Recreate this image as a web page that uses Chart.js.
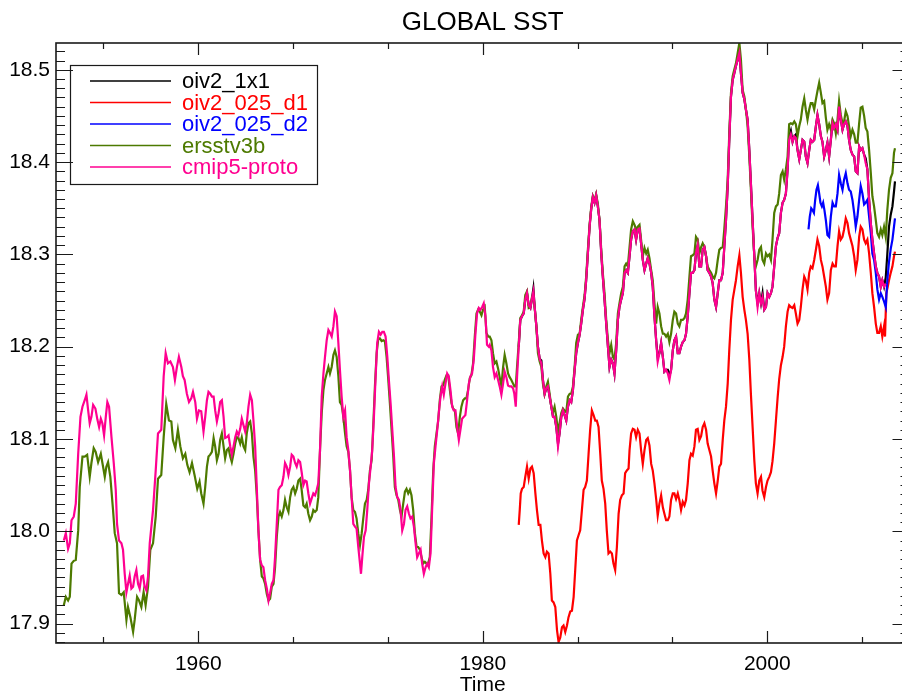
<!DOCTYPE html>
<html>
<head>
<meta charset="utf-8">
<title>GLOBAL SST</title>
<script src="https://cdn.jsdelivr.net/npm/chart.js@4.4.1/dist/chart.umd.min.js"></script>
<style>
    html, body { margin: 0; padding: 0; background: #fff; overflow: hidden; }
    #sst_chart { display: block; }
</style>
</head>
<body>
<canvas id="sst_chart" width="912" height="700"></canvas>
<script>
// tick labels
const xTickLabels = [1960, 1980, 2000];
const yTickLabels = [17.9, 18.0, 18.1, 18.2, 18.3, 18.4, 18.5];

// ersstv3b (green)
const ersstYears = [
    1950.55,1950.69,1950.85,1950.97,1951.09,1951.25,1951.39,1951.56,1951.67,1951.86,
    1952.02,1952.19,1952.37,1952.49,1952.65,1952.79,1952.96,1953.15,1953.31,1953.43,
    1953.54,1953.66,1953.82,1954.01,1954.13,1954.29,1954.43,1954.60,1954.76,1954.95,
    1955.06,1955.23,1955.42,1955.53,1955.70,1955.84,1956.00,1956.16,1956.30,1956.47,
    1956.63,1956.82,1957.01,1957.17,1957.40,1957.57,1957.75,1957.94,1958.11,1958.22,
    1958.39,1958.57,1958.74,1958.92,1959.09,1959.23,1959.39,1959.56,1959.74,1959.93,
    1960.09,1960.21,
    1960.37,1960.49,1960.61,1960.72,1960.84,1960.96,1961.08,1961.19,1961.31,1961.43,
    1961.54,1961.66,1961.78,1961.89,1962.01,1962.13,1962.25,1962.36,1962.48,1962.60,
    1962.71,1962.83,1962.95,1963.06,1963.18,1963.30,1963.41,1963.53,1963.65,1963.77,
    1963.88,1964.00,1964.12,1964.23,1964.35,1964.47,1964.58,1964.70,1964.82,1964.94,
    1965.05,1965.17,1965.29,1965.40,1965.52,1965.64,1965.75,1965.87,1965.99,1966.10,
    1966.22,1966.34,1966.46,1966.57,1966.69,1966.81,1966.92,1967.04,1967.16,1967.27,
    1967.39,1967.51,1967.62,1967.74,1967.86,1967.98,1968.09,1968.21,1968.33,1968.44,
    1968.56,1968.68,1968.80,1968.91,1969.03,1969.15,1969.26,1969.38,1969.50,1969.61,
    1969.73,1969.85,1969.96,1970.08,1970.20,
    1970.32,1970.43,1970.55,1970.67,1970.78,1970.90,1971.02,1971.13,1971.25,1971.37,
    1971.49,1971.60,1971.72,1971.84,1971.95,1972.07,1972.19,1972.30,1972.42,1972.54,
    1972.66,1972.77,1972.89,1973.01,1973.12,1973.24,1973.36,1973.47,1973.59,1973.71,
    1973.82,1973.94,1974.06,1974.18,1974.29,1974.41,1974.53,1974.64,1974.76,1974.88,
    1974.99,1975.11,1975.23,1975.35,1975.46,1975.58,1975.70,1975.81,1975.93,1976.05,
    1976.16,1976.28,1976.40,1976.52,1976.63,1976.75,1976.87,1976.98,1977.10,1977.22,
    1977.33,1977.45,1977.57,1977.69,1977.80,1977.92,1978.04,1978.15,1978.27,1978.39,
    1978.50,1978.62,1978.74,1978.85,1978.97,1979.09,1979.20,1979.32,1979.44,1979.56,
    1979.67,1979.79,1979.91,1980.02,1980.14,1980.26,1980.38,
    1980.49,1980.61,1980.72,1980.84,1980.96,1981.08,1981.19,1981.31,1981.43,1981.54,
    1981.66,1981.78,1981.89,1982.01,1982.13,1982.22,1982.32,1982.41,1982.53,1982.64,
    1982.76,1982.88,1982.99,1983.11,1983.23,1983.35,1983.46,1983.56,1983.65,1983.77,
    1983.88,1984.00,1984.12,1984.23,1984.35,1984.47,1984.58,1984.70,1984.82,1984.94,
    1985.05,1985.17,1985.29,1985.40,1985.52,1985.64,1985.75,1985.87,1985.99,1986.11,
    1986.22,1986.34,1986.46,1986.57,1986.69,1986.81,1986.92,1987.04,1987.16,1987.27,
    1987.39,1987.51,
    1987.63,1987.74,1987.86,1987.97,1988.09,
    1988.21,1988.33,1988.44,1988.56,1988.68,1988.80,1988.91,1989.03,1989.15,1989.26,
    1989.38,1989.50,
    1989.61,1989.73,1989.85,1989.97,1990.08,1990.20,1990.32,1990.43,1990.55,1990.67,
    1990.78,1990.90,1991.02,1991.13,1991.25,1991.37,1991.49,1991.60,1991.72,1991.84,
    1991.95,1992.07,1992.19,1992.30,1992.42,1992.54,1992.66,1992.77,1992.89,1993.01,
    1993.12,1993.24,1993.36,1993.47,1993.59,1993.71,1993.82,1993.94,1994.06,1994.18,
    1994.29,1994.41,1994.53,1994.64,1994.76,1994.88,1994.99,1995.11,1995.23,1995.35,
    1995.46,1995.58,1995.70,1995.81,1995.93,1996.05,1996.16,1996.28,1996.40,1996.52,
    1996.63,1996.75,1996.87,1996.98,1997.10,1997.22,1997.33,1997.45,1997.57,1997.68,
    1997.80,1997.92,1998.04,1998.15,1998.27,1998.39,1998.50,1998.62,1998.74,1998.85,
    1998.97,1999.09,1999.20,1999.32,1999.44,1999.56,1999.67,1999.79,1999.91,2000.02,
    2000.14,2000.26,2000.37,2000.49,2000.61,2000.73,2000.84,2000.96,2001.08,2001.19,
    2001.31,2001.43,2001.54,2001.66,2001.78,2001.90,2002.01,2002.13,2002.25,2002.36,
    2002.48,2002.60,2002.71,2002.83,2002.95,2003.06,2003.18,2003.30,2003.42,2003.53,
    2003.65,2003.77,2003.88,2004.00,2004.12,2004.23,2004.35,2004.47,2004.59,2004.70,
    2004.82,2004.94,2005.05,2005.17,2005.29,2005.40,2005.52,2005.64,2005.75,2005.87,
    2005.99,2006.11,2006.22,2006.34,2006.46,2006.57,2006.69,2006.81,2006.92,2007.04,
    2007.16,2007.28,2007.39,2007.51,2007.63,2007.74,2007.86,2007.98,2008.09,2008.21,
    2008.33,2008.44,2008.56,2008.68,2008.80,2008.91,2008.98
];
const ersstSst = [
    17.920,17.929,17.925,17.929,17.965,17.968,17.969,18.001,18.048,18.081,
    18.081,18.083,18.059,18.074,18.090,18.086,18.075,18.084,18.070,18.059,
    18.070,18.075,18.059,18.023,17.998,17.987,17.933,17.931,17.934,17.904,
    17.918,17.907,17.891,17.904,17.929,17.925,17.918,17.934,17.920,17.940,
    17.980,17.987,18.016,18.057,18.061,18.102,18.138,18.120,18.119,18.099,
    18.090,18.110,18.092,18.079,18.084,18.072,18.064,18.074,18.061,18.046,
    18.054,18.041,
    18.030,18.048,18.070,18.081,18.083,18.086,18.101,18.092,18.077,18.084,
    18.099,18.106,18.092,18.079,18.088,18.090,18.081,18.075,18.084,18.095,
    18.102,18.101,18.095,18.102,18.092,18.088,18.106,18.117,18.119,18.106,
    18.081,18.066,18.037,18.001,17.969,17.951,17.949,17.943,17.932,17.925,
    17.927,17.940,17.943,17.961,17.994,18.016,18.021,18.016,18.023,18.034,
    18.026,18.021,18.037,18.045,18.048,18.041,18.046,18.055,18.057,18.045,
    18.028,18.026,18.030,18.019,18.012,18.016,18.023,18.021,18.023,18.037,
    18.088,18.128,18.153,18.164,18.171,18.178,18.171,18.178,18.191,18.196,
    18.189,18.168,18.140,18.137,18.124,
    18.106,18.092,18.086,18.066,18.037,18.023,18.021,18.014,17.998,17.985,
    17.998,18.014,18.030,18.034,18.045,18.066,18.077,18.113,18.157,18.193,
    18.209,18.209,18.206,18.207,18.206,18.189,18.164,18.139,18.110,18.081,
    18.048,18.039,18.034,18.023,18.016,18.030,18.043,18.046,18.041,18.045,
    18.039,18.023,17.998,17.983,17.983,17.980,17.972,17.965,17.967,17.965,
    17.965,17.972,18.016,18.066,18.092,18.106,18.120,18.142,18.157,18.158,
    18.164,18.169,18.169,18.153,18.139,18.133,18.131,18.113,18.106,18.124,
    18.135,18.142,18.144,18.144,18.153,18.166,18.169,18.182,18.211,18.236,
    18.240,18.238,18.234,18.240,18.243,18.215,18.211,
    18.211,18.207,18.193,18.182,18.184,18.176,18.167,18.157,18.178,18.191,
    18.182,18.171,18.167,18.164,18.160,18.157,18.157,18.178,18.204,18.231,
    18.234,18.238,18.256,18.260,18.242,18.243,18.254,18.256,18.242,18.222,
    18.193,18.184,18.178,18.160,18.149,18.157,18.162,18.149,18.135,18.129,
    18.135,18.124,18.108,18.117,18.128,18.133,18.131,18.129,18.146,18.149,
    18.149,18.157,18.178,18.204,18.213,18.214,18.229,18.243,18.256,18.276,
    18.305,18.332,
    18.352,18.363,18.358,18.365,18.355,
    18.337,18.305,18.280,18.258,18.229,18.207,18.193,18.202,18.189,18.186,
    18.204,18.236,
    18.247,18.258,18.265,18.287,18.290,18.287,18.308,18.327,18.336,18.332,
    18.327,18.330,18.332,18.316,18.298,18.307,18.301,18.305,18.296,18.283,
    18.272,18.247,18.225,18.243,18.236,18.222,18.214,18.214,18.211,18.214,
    18.205,18.214,18.229,18.238,18.236,18.225,18.222,18.229,18.229,18.231,
    18.236,18.251,18.276,18.298,18.299,18.301,18.319,18.316,18.301,18.308,
    18.312,18.308,18.298,18.287,18.283,18.280,18.276,18.274,18.280,18.294,
    18.305,18.307,18.308,18.327,18.352,18.381,18.431,18.475,18.493,18.500,
    18.507,18.518,18.529,18.511,18.478,18.471,18.457,18.439,18.406,18.370,
    18.330,18.298,18.287,18.294,18.305,18.308,18.294,18.290,18.301,18.298,
    18.300,18.294,18.316,18.345,18.352,18.354,18.366,18.386,18.390,18.381,
    18.392,18.406,18.441,18.442,18.441,18.444,18.441,18.428,18.439,18.446,
    18.460,18.469,18.457,18.446,18.457,18.464,18.464,18.457,18.468,18.477,
    18.486,18.475,18.464,18.466,18.448,18.435,18.441,18.435,18.446,18.442,
    18.431,18.446,18.466,18.451,18.442,18.444,18.455,18.450,18.439,18.428,
    18.435,18.430,18.421,18.421,18.442,18.459,18.460,18.450,18.437,18.433,
    18.413,18.388,18.363,18.352,18.337,18.323,18.319,18.327,18.321,18.330,
    18.319,18.348,18.370,18.383,18.388,18.410,18.415
];

// cmip5-proto (pink)
const cmipYears = [
    1950.55,1950.69,1950.85,1950.97,1951.09,1951.25,1951.39,1951.56,1951.72,1951.86,
    1952.02,1952.14,1952.26,1952.37,1952.49,1952.61,1952.77,1952.91,1953.03,1953.15,
    1953.26,1953.38,1953.50,1953.61,1953.73,1953.90,1954.06,1954.20,1954.29,1954.43,
    1954.60,1954.71,1954.83,1954.95,1955.06,1955.18,1955.30,1955.42,1955.53,1955.65,
    1955.77,1955.88,1956.00,1956.12,1956.23,1956.35,1956.47,1956.59,1956.82,1957.01,
    1957.17,1957.40,1957.57,1957.71,1957.87,1958.04,1958.22,1958.36,1958.50,1958.64,
    1958.81,1958.92,1959.04,1959.20,1959.35,1959.51,1959.63,1959.79,1959.91,1960.05,
    1960.21,
    1960.37,1960.49,1960.61,1960.72,1960.84,1960.96,1961.08,1961.19,1961.31,1961.43,
    1961.54,1961.66,1961.78,1961.89,1962.01,1962.13,1962.25,1962.36,1962.48,1962.60,
    1962.71,1962.83,1962.95,1963.06,1963.18,1963.30,1963.41,1963.53,1963.65,1963.77,
    1963.88,1964.00,1964.12,1964.23,1964.35,1964.47,1964.58,1964.70,1964.82,1964.94,
    1965.05,1965.17,1965.29,1965.40,1965.52,1965.64,1965.75,1965.87,1965.99,1966.10,
    1966.22,1966.34,1966.46,1966.57,1966.69,1966.81,1966.92,1967.04,1967.16,1967.27,
    1967.39,1967.51,1967.62,1967.74,1967.86,1967.98,1968.09,1968.21,1968.33,1968.44,
    1968.56,1968.68,1968.80,1968.91,1969.03,1969.15,1969.26,1969.38,1969.50,1969.61,
    1969.73,1969.85,1969.96,1970.08,1970.20,
    1970.32,1970.43,1970.55,1970.67,1970.78,1970.90,1971.02,1971.13,1971.25,1971.37,
    1971.44,1971.53,1971.65,1971.77,1971.88,1972.00,1972.12,1972.23,1972.35,1972.47,
    1972.58,1972.70,1972.82,1972.94,1973.05,1973.17,1973.29,1973.40,1973.52,1973.64,
    1973.76,1973.87,1973.99,1974.11,1974.22,1974.34,1974.46,1974.57,1974.69,1974.81,
    1974.92,1975.04,1975.16,1975.28,1975.39,1975.51,1975.63,1975.74,1975.86,1975.98,
    1976.09,1976.21,1976.33,1976.44,1976.56,1976.68,1976.80,1976.91,1977.03,1977.15,
    1977.26,1977.38,1977.50,1977.61,1977.73,1977.85,1977.96,1978.08,1978.20,1978.32,
    1978.43,1978.55,1978.67,1978.78,1978.90,1979.02,1979.14,1979.25,1979.37,1979.49,
    1979.60,1979.72,1979.84,1979.96,1980.07,1980.19,1980.30,1980.42,
    1980.49,1980.61,1980.72,1980.84,1980.96,1981.08,1981.19,1981.31,1981.43,1981.54,
    1981.66,1981.78,1981.89,1982.01,1982.13,1982.22,1982.32,1982.41,1982.53,1982.64,
    1982.76,1982.88,1982.99,1983.11,1983.23,1983.35,1983.46,1983.56,1983.65,1983.77,
    1983.88,1984.00,1984.12,1984.23,1984.35,1984.47,1984.58,1984.70,1984.82,1984.94,
    1985.05,1985.17,1985.29,1985.40,1985.52,1985.64,1985.75,1985.87,1985.99,1986.11,
    1986.22,1986.34,1986.46,1986.57,1986.69,1986.81,1986.92,1987.04,1987.16,1987.27,
    1987.39,1987.51,
    1987.63,1987.74,1987.86,1987.97,1988.09,
    1988.21,1988.33,1988.44,1988.56,1988.68,1988.80,1988.91,1989.03,1989.15,1989.26,
    1989.38,1989.50,
    1989.61,1989.73,1989.85,1989.97,1990.08,1990.20,1990.32,1990.43,1990.55,1990.67,
    1990.78,1990.90,1991.02,1991.13,1991.25,1991.37,1991.49,1991.60,1991.72,1991.84,
    1991.95,1992.07,1992.19,1992.30,1992.42,1992.54,1992.66,1992.77,1992.89,1993.01,
    1993.12,1993.24,1993.36,1993.47,1993.59,1993.71,1993.82,1993.94,1994.06,1994.18,
    1994.29,1994.41,1994.53,1994.64,1994.76,1994.88,1994.99,1995.11,1995.23,1995.35,
    1995.46,1995.58,1995.70,1995.81,1995.93,1996.05,1996.16,1996.28,1996.40,1996.52,
    1996.63,1996.75,1996.87,1996.98,1997.10,1997.22,1997.33,1997.45,1997.57,1997.68,
    1997.80,1997.92,1998.04,1998.15,1998.27,1998.39,1998.50,1998.62,1998.74,1998.85,
    1998.97,1999.09,1999.20,1999.32,1999.44,1999.56,1999.67,1999.79,1999.91,2000.02,
    2000.14,2000.26,2000.37,2000.49,2000.61,2000.73,2000.84,2000.96,2001.08,2001.19,
    2001.31,2001.43,2001.54,2001.66,2001.78,2001.90,2002.01,2002.13,2002.25,2002.36,
    2002.48,2002.60,2002.71,2002.83,2002.95,2003.06,2003.18,2003.30,2003.42,2003.53,
    2003.65,2003.77,2003.88,2004.00,2004.12,2004.23,2004.35,2004.47,2004.59,2004.70,
    2004.82,2004.94,2005.05,2005.17,2005.29,2005.40,2005.52,2005.64,2005.75,2005.87,
    2005.99,2006.11,2006.22,2006.34,2006.46,2006.57,2006.69,2006.81,2006.92,2007.04,
    2007.16,2007.28,2007.39,2007.51,2007.63,2007.74,2007.86,2007.98,2008.09,2008.21,
    2008.33
];
const cmipSst = [
    17.990,17.998,17.981,17.987,18.012,18.016,18.030,18.084,18.124,18.135,
    18.142,18.148,18.131,18.117,18.124,18.137,18.133,18.121,18.113,18.122,
    18.117,18.104,18.124,18.140,18.135,18.102,18.074,18.045,18.008,17.990,
    17.987,17.980,17.954,17.934,17.943,17.952,17.938,17.940,17.951,17.958,
    17.943,17.938,17.951,17.952,17.940,17.936,17.951,17.987,18.023,18.066,
    18.106,18.110,18.168,18.193,18.182,18.184,18.178,18.164,18.178,18.189,
    18.178,18.168,18.164,18.149,18.140,18.144,18.151,18.140,18.122,18.131,
    18.130,
    18.108,18.124,18.142,18.151,18.149,18.146,18.146,18.131,18.119,18.128,
    18.140,18.142,18.124,18.101,18.102,18.104,18.092,18.083,18.092,18.102,
    18.108,18.104,18.111,18.122,18.115,18.108,18.117,18.135,18.148,18.142,
    18.120,18.092,18.045,18.001,17.969,17.963,17.961,17.947,17.938,17.925,
    17.933,17.943,17.947,17.972,18.008,18.045,18.048,18.050,18.059,18.074,
    18.070,18.061,18.070,18.083,18.081,18.074,18.070,18.077,18.075,18.064,
    18.050,18.055,18.054,18.041,18.030,18.036,18.041,18.039,18.045,18.052,
    18.088,18.146,18.171,18.189,18.207,18.218,18.215,18.211,18.222,18.238,
    18.233,18.204,18.175,18.146,18.124,
    18.131,18.102,18.088,18.066,18.037,18.008,18.005,18.003,17.983,17.965,
    17.954,17.972,17.994,18.001,18.023,18.052,18.070,18.088,18.124,18.168,
    18.204,18.216,18.213,18.216,18.216,18.211,18.189,18.164,18.139,18.110,
    18.081,18.048,18.037,18.034,18.023,18.001,18.008,18.023,18.027,18.019,
    18.014,18.016,18.005,17.987,17.972,17.976,17.980,17.965,17.954,17.961,
    17.965,17.961,17.976,18.023,18.073,18.092,18.110,18.128,18.146,18.157,
    18.148,18.160,18.171,18.168,18.153,18.135,18.131,18.131,18.113,18.099,
    18.110,18.122,18.124,18.126,18.142,18.160,18.168,18.171,18.186,18.215,
    18.236,18.242,18.240,18.243,18.247,18.233,18.202,18.200,
    18.202,18.196,18.178,18.167,18.171,18.164,18.157,18.148,18.160,18.173,
    18.167,18.158,18.157,18.157,18.155,18.149,18.135,18.167,18.200,18.229,
    18.233,18.236,18.251,18.258,18.245,18.242,18.252,18.260,18.243,18.222,
    18.200,18.187,18.182,18.164,18.149,18.155,18.157,18.146,18.135,18.124,
    18.124,18.113,18.092,18.106,18.124,18.131,18.126,18.120,18.135,18.142,
    18.140,18.153,18.175,18.193,18.204,18.213,18.225,18.240,18.252,18.272,
    18.301,18.330,
    18.350,18.362,18.356,18.364,18.352,
    18.337,18.301,18.276,18.251,18.225,18.200,18.178,18.186,18.182,18.171,
    18.196,18.229,
    18.243,18.251,18.258,18.280,18.283,18.280,18.298,18.316,18.325,18.327,
    18.316,18.327,18.328,18.312,18.294,18.283,18.290,18.296,18.290,18.280,
    18.265,18.233,18.207,18.184,18.193,18.204,18.189,18.173,18.175,18.171,
    18.164,18.175,18.196,18.207,18.211,18.193,18.193,18.200,18.205,18.207,
    18.214,18.233,18.258,18.280,18.280,18.283,18.301,18.310,18.287,18.287,
    18.305,18.308,18.298,18.283,18.280,18.276,18.269,18.251,18.243,18.258,
    18.272,18.272,18.280,18.308,18.337,18.374,18.424,18.471,18.489,18.496,
    18.504,18.511,18.518,18.496,18.475,18.468,18.457,18.446,18.413,18.377,
    18.337,18.298,18.261,18.243,18.258,18.247,18.254,18.240,18.243,18.258,
    18.254,18.258,18.265,18.287,18.309,18.318,18.323,18.345,18.356,18.359,
    18.366,18.392,18.424,18.430,18.422,18.428,18.426,18.413,18.403,18.413,
    18.424,18.422,18.406,18.399,18.413,18.424,18.422,18.424,18.439,18.451,
    18.441,18.428,18.422,18.406,18.413,18.421,18.406,18.424,18.442,18.437,
    18.441,18.435,18.460,18.446,18.435,18.441,18.444,18.439,18.424,18.413,
    18.408,18.406,18.390,18.388,18.417,18.413,18.415,18.408,18.399,18.392,
    18.359,18.334,18.316,18.301,18.287,18.280,18.276,18.265,18.272,18.265,
    18.268
];

// oiv2_1x1 (black)
const oiYears = [
    1982.53,1982.64,1982.76,1982.88,1982.99,1983.11,1983.23,1983.35,1983.46,1983.56,
    1983.65,1983.77,1983.88,1984.00,1984.12,1984.23,1984.35,1984.47,1984.58,1984.70,
    1984.82,1984.94,1985.05,1985.17,1985.29,1985.40,1985.52,1985.64,1985.75,1985.87,
    1985.99,1986.11,1986.22,1986.34,1986.46,1986.57,1986.69,1986.81,1986.92,1987.04,
    1987.16,1987.27,1987.39,1987.51,
    1987.63,1987.74,1987.86,1987.97,1988.09,
    1988.21,1988.33,1988.44,1988.56,1988.68,1988.80,1988.91,1989.03,1989.15,1989.26,
    1989.38,1989.50,
    1989.61,1989.73,1989.85,1989.97,1990.08,1990.20,1990.32,1990.43,1990.55,1990.67,
    1990.78,1990.90,1991.02,1991.13,1991.25,1991.37,1991.49,1991.60,1991.72,1991.84,
    1991.95,1992.07,1992.19,1992.30,1992.42,1992.54,1992.66,1992.77,1992.89,1993.01,
    1993.12,1993.24,1993.36,1993.47,1993.59,1993.71,1993.82,1993.94,1994.06,1994.18,
    1994.29,1994.41,1994.53,1994.64,1994.76,1994.88,1994.99,1995.11,1995.23,1995.35,
    1995.46,1995.58,1995.70,1995.81,1995.93,1996.05,1996.16,1996.28,1996.40,1996.52,
    1996.63,1996.75,1996.87,1996.98,1997.10,1997.22,1997.33,1997.45,1997.57,1997.68,
    1997.80,1997.92,1998.04,1998.15,1998.27,1998.39,1998.50,1998.62,1998.74,1998.85,
    1998.97,1999.09,1999.20,1999.32,1999.44,1999.56,1999.67,1999.79,1999.91,2000.02,
    2000.14,2000.26,2000.37,2000.49,2000.61,2000.73,2000.84,2000.96,2001.08,2001.19,
    2001.31,2001.43,2001.54,2001.66,2001.78,2001.90,2002.01,2002.13,2002.25,2002.36,
    2002.48,2002.60,2002.71,2002.83,2002.95,2003.06,2003.18,2003.30,2003.42,2003.53,
    2003.65,2003.77,2003.88,2004.00,2004.12,2004.23,2004.35,2004.47,2004.59,2004.70,
    2004.82,2004.94,2005.05,2005.17,2005.29,2005.40,2005.52,2005.64,2005.75,2005.87,
    2005.99,2006.11,2006.22,2006.34,2006.46,2006.57,2006.69,2006.81,2006.92,2007.04,
    2007.16,2007.28,2007.39,2007.51,2007.63,2007.74,2007.86,2007.98,2008.09,2008.21,
    2008.33,2008.44,2008.56,2008.68,2008.80,2008.91,2008.98
];
const oiSst = [
    18.200,18.229,18.233,18.236,18.251,18.258,18.245,18.242,18.252,18.263,
    18.243,18.222,18.200,18.187,18.185,18.164,18.149,18.155,18.157,18.146,
    18.135,18.124,18.124,18.113,18.095,18.106,18.124,18.131,18.126,18.120,
    18.135,18.142,18.140,18.153,18.175,18.193,18.204,18.213,18.225,18.240,
    18.252,18.272,18.301,18.330,
    18.350,18.362,18.356,18.364,18.352,
    18.337,18.301,18.276,18.251,18.225,18.200,18.178,18.186,18.182,18.171,
    18.196,18.229,
    18.243,18.251,18.258,18.280,18.283,18.280,18.298,18.316,18.325,18.327,
    18.316,18.327,18.328,18.312,18.294,18.283,18.290,18.296,18.290,18.280,
    18.265,18.233,18.207,18.188,18.193,18.204,18.189,18.173,18.175,18.175,
    18.168,18.175,18.196,18.207,18.211,18.193,18.193,18.200,18.205,18.207,
    18.214,18.233,18.258,18.280,18.280,18.283,18.301,18.310,18.287,18.287,
    18.305,18.308,18.298,18.283,18.280,18.276,18.269,18.251,18.243,18.258,
    18.272,18.272,18.280,18.308,18.337,18.374,18.424,18.471,18.489,18.496,
    18.504,18.511,18.518,18.496,18.475,18.468,18.457,18.446,18.413,18.377,
    18.337,18.298,18.261,18.247,18.258,18.247,18.258,18.240,18.243,18.258,
    18.254,18.258,18.265,18.287,18.309,18.318,18.323,18.345,18.356,18.359,
    18.366,18.392,18.428,18.434,18.422,18.428,18.430,18.413,18.403,18.413,
    18.424,18.422,18.406,18.399,18.413,18.424,18.422,18.424,18.439,18.451,
    18.441,18.428,18.422,18.406,18.413,18.421,18.406,18.424,18.442,18.437,
    18.441,18.435,18.460,18.446,18.435,18.441,18.444,18.439,18.424,18.413,
    18.408,18.406,18.390,18.388,18.417,18.413,18.415,18.408,18.404,18.392,
    18.359,18.334,18.316,18.301,18.287,18.280,18.276,18.265,18.272,18.265,
    18.275,18.300,18.330,18.343,18.352,18.368,18.379
];

// oiv2_025_d1 (red)
const d1Years = [
    1982.53,1982.60,1982.67,1982.76,1982.88,1982.99,1983.11,1983.23,1983.35,1983.46,
    1983.58,1983.70,1983.81,1983.93,1984.05,1984.16,1984.28,1984.40,1984.51,1984.63,
    1984.75,1984.86,1984.98,1985.10,1985.22,1985.33,1985.45,1985.57,1985.68,1985.80,
    1985.92,1986.03,1986.15,1986.27,1986.39,1986.50,1986.62,1986.74,1986.85,1986.97,
    1987.09,1987.20,1987.32,1987.44,1987.55,1987.67,1987.79,1987.91,1988.02,1988.14,
    1988.26,1988.37,1988.49,1988.61,1988.72,1988.84,1988.96,1989.08,1989.19,1989.31,
    1989.43,1989.55,1989.66,1989.78,1989.90,1990.01,1990.13,1990.25,
    1990.32,1990.43,1990.55,1990.67,1990.78,1990.90,1991.02,1991.13,1991.25,1991.37,
    1991.49,1991.60,1991.72,1991.84,1991.95,1992.07,1992.19,1992.30,1992.42,1992.54,
    1992.66,1992.77,1992.89,1993.01,1993.12,1993.24,1993.36,1993.47,1993.59,1993.71,
    1993.82,1993.94,1994.06,1994.18,1994.29,1994.41,1994.53,1994.64,1994.76,1994.88,
    1994.99,1995.11,1995.23,1995.35,1995.46,1995.58,1995.70,1995.81,1995.93,1996.05,
    1996.16,1996.28,1996.40,1996.52,1996.63,1996.75,1996.87,1996.98,1997.10,1997.22,
    1997.33,1997.45,1997.57,1997.68,1997.80,1997.92,1998.04,1998.15,1998.27,1998.39,
    1998.50,1998.62,1998.74,1998.85,1998.97,1999.09,1999.20,1999.32,1999.44,1999.56,
    1999.67,1999.79,1999.91,2000.02,
    2000.14,2000.26,2000.37,2000.49,2000.61,2000.73,2000.84,2000.96,
    2001.08,2001.19,2001.31,2001.43,2001.54,2001.66,2001.78,2001.90,2002.01,2002.13,
    2002.25,2002.36,2002.48,2002.60,2002.71,2002.83,2002.95,2003.06,2003.18,2003.30,
    2003.42,2003.53,2003.65,2003.77,2003.88,2004.00,2004.12,2004.23,2004.35,2004.47,
    2004.59,2004.70,2004.82,2004.94,2005.05,2005.17,2005.29,2005.40,2005.52,2005.64,
    2005.75,2005.87,2005.99,2006.11,2006.22,2006.34,2006.46,2006.57,2006.69,2006.81,
    2006.92,2007.04,2007.16,2007.28,2007.39,2007.51,2007.63,2007.74,2007.86,2007.98,
    2008.09,2008.21,
    2008.28,2008.37,2008.47,2008.56,2008.68,2008.80,2008.91,2008.98
];
const d1Sst = [
    18.007,18.023,18.041,18.046,18.048,18.059,18.070,18.057,18.068,18.070,
    18.063,18.041,18.023,18.007,18.007,17.990,17.976,17.972,17.978,17.976,
    17.954,17.925,17.923,17.918,17.893,17.880,17.885,17.896,17.898,17.891,
    17.898,17.907,17.913,17.914,17.929,17.958,17.990,17.996,18.001,18.023,
    18.045,18.048,18.055,18.084,18.110,18.131,18.126,18.120,18.120,18.113,
    18.084,18.055,18.046,18.030,18.001,17.976,17.978,17.976,17.965,17.958,
    17.983,18.019,18.034,18.039,18.041,18.063,18.066,18.068,
    18.088,18.106,18.111,18.110,18.102,18.110,18.106,18.088,18.073,18.088,
    18.099,18.101,18.093,18.073,18.066,18.052,18.035,18.017,18.030,18.039,
    18.026,18.019,18.012,18.012,18.016,18.034,18.041,18.041,18.035,18.041,
    18.034,18.023,18.032,18.028,18.034,18.052,18.077,18.084,18.082,18.092,
    18.110,18.111,18.099,18.103,18.113,18.117,18.110,18.095,18.088,18.081,
    18.066,18.052,18.041,18.055,18.070,18.073,18.099,18.120,18.135,18.160,
    18.196,18.229,18.251,18.261,18.272,18.287,18.299,18.280,18.254,18.240,
    18.229,18.214,18.186,18.149,18.113,18.077,18.052,18.041,18.055,18.059,
    18.044,18.037,18.048,18.055,
    18.059,18.064,18.076,18.095,18.120,18.145,18.165,18.180,
    18.189,18.200,18.222,18.238,18.245,18.243,18.242,18.245,18.236,18.225,
    18.229,18.243,18.262,18.276,18.272,18.262,18.280,18.287,18.285,18.294,
    18.305,18.316,18.309,18.294,18.287,18.276,18.265,18.251,18.258,18.283,
    18.290,18.287,18.287,18.309,18.325,18.316,18.319,18.327,18.339,18.334,
    18.323,18.316,18.309,18.298,18.283,18.294,18.319,18.330,18.327,18.316,
    18.312,18.316,18.301,18.280,18.258,18.243,18.225,18.215,18.215,18.222,
    18.211,18.222,
    18.211,18.258,18.265,18.272,18.280,18.287,18.298,18.303
];

// oiv2_025_d2 (blue)
const d2Years = [
    2002.90,2002.99,2003.09,2003.18,2003.28,2003.37,2003.46,2003.56,2003.65,2003.74,
    2003.84,2003.93,2004.02,2004.12,2004.23,2004.35,2004.47,2004.59,2004.70,2004.82,
    2004.94,2005.05,2005.17,2005.29,2005.40,2005.52,2005.64,2005.75,2005.87,2005.99,
    2006.11,2006.22,2006.34,2006.46,2006.57,2006.69,2006.81,2006.92,2007.04,2007.16,
    2007.28,2007.39,2007.51,2007.63,2007.74,2007.86,2007.98,2008.09,2008.21,2008.33,
    2008.44,2008.56,2008.68,2008.80,2008.91,2008.98
];
const d2Sst = [
    18.327,18.341,18.350,18.348,18.345,18.359,18.370,18.375,18.366,18.356,
    18.352,18.356,18.348,18.337,18.321,18.319,18.341,18.356,18.352,18.352,
    18.366,18.386,18.377,18.370,18.381,18.388,18.377,18.370,18.368,18.359,
    18.345,18.330,18.341,18.359,18.374,18.366,18.354,18.356,18.359,18.341,
    18.323,18.301,18.294,18.280,18.262,18.251,18.258,18.254,18.249,18.243,
    18.272,18.292,18.306,18.316,18.330,18.339
];

const FONT = '"Liberation Sans", Arial, Helvetica, sans-serif';

const toPoints = (years, vals) => years.map((t, i) => ({ x: t, y: vals[i] }));

// ticks drawn inward on all four sides, like the original plot frame
const frameTicks = {
    id: 'frameTicks',
    afterDatasetsDraw(chart) {
        const { ctx, chartArea: a, scales: { x, y } } = chart;
        ctx.save();
        ctx.strokeStyle = '#1a1a1a';
        ctx.lineWidth = 1.2;
        ctx.beginPath();
        const xStep = 20 / 3;
        for (let v = 1960 - 2 * xStep; v <= 2010 + 0.01; v += xStep) {
            if (v < x.min - 0.01) continue;
            const px = Math.round(x.getPixelForValue(v)) + 0.5;
            const major = xTickLabels.some(t => Math.abs(t - v) < 0.01);
            const len = major ? 12 : 6;
            ctx.moveTo(px, a.bottom); ctx.lineTo(px, a.bottom - len);
            ctx.moveTo(px, a.top); ctx.lineTo(px, a.top + len);
        }
        for (let k = 1788; k <= 1852; k++) {
            const v = k / 100;
            const py = Math.round(y.getPixelForValue(v)) + 0.5;
            const len = (k % 10 === 0) ? 17 : 9;
            ctx.moveTo(a.left, py); ctx.lineTo(a.left + len, py);
            ctx.moveTo(a.right, py); ctx.lineTo(a.right - len, py);
        }
        ctx.stroke();
        ctx.lineWidth = 1.6;
        ctx.strokeRect(a.left, a.top, a.right - a.left, a.bottom - a.top);
        ctx.restore();
    }
};

const legendBox = {
    id: 'legendBox',
    afterDraw(chart) {
        const { ctx, chartArea: a } = chart;
        const left = a.left + 14, top = a.top + 22;
        ctx.save();
        ctx.strokeStyle = '#1a1a1a';
        ctx.lineWidth = 1.2;
        ctx.strokeRect(left + 0.5, top + 0.5, 247, 119);
        ctx.font = '22px ' + FONT;
        ctx.textBaseline = 'middle';
        chart.data.datasets.forEach((ds, i) => {
            const yy = top + 16 + i * 21.5;
            ctx.strokeStyle = ds.borderColor;
            ctx.lineWidth = 1.3;
            ctx.beginPath();
            ctx.moveTo(left + 20, yy);
            ctx.lineTo(left + 101, yy);
            ctx.stroke();
            ctx.fillStyle = ds.borderColor;
            ctx.fillText(ds.label, left + 112, yy + 1);
        });
        ctx.restore();
    }
};

const ctx = document.getElementById('sst_chart').getContext('2d');
const sst_chart = new Chart(ctx, {
    type: 'line',
    data: {
        datasets: [
            { label: 'oiv2_1x1', data: toPoints(oiYears, oiSst), borderColor: '#000000', order: 5 },
            { label: 'oiv2_025_d1', data: toPoints(d1Years, d1Sst), borderColor: '#ff0000', order: 4 },
            { label: 'oiv2_025_d2', data: toPoints(d2Years, d2Sst), borderColor: '#0000ff', order: 3 },
            { label: 'ersstv3b', data: toPoints(ersstYears, ersstSst), borderColor: '#4d7a00', order: 2 },
            { label: 'cmip5-proto', data: toPoints(cmipYears, cmipSst), borderColor: '#ff0090', order: 1 },
        ],
    },
    options: {
        responsive: false,
        animation: false,
        layout: { padding: { right: 2.5 } },
        elements: {
            point: { radius: 0 },
            line: { borderWidth: 2.2, tension: 0, fill: false },
        },
        plugins: {
            legend: { display: false },
            tooltip: { enabled: false },
            title: {
                display: true,
                text: 'GLOBAL SST',
                fullSize: false,
                color: '#000',
                font: { family: FONT, size: 26, weight: 'normal' },
                padding: { top: 7, bottom: 4.8 },
            },
        },
        scales: {
            x: {
                type: 'linear',
                min: 1950,
                max: 2010,
                afterBuildTicks: (s) => { s.ticks = xTickLabels.map(v => ({ value: v })); },
                afterFit: (s) => { s.height = 57; },
                grid: { display: false, drawTicks: false },
                border: { display: false },
                ticks: {
                    padding: 9,
                    color: '#000',
                    maxRotation: 0,
                    font: { family: FONT, size: 21 },
                    callback: (v) => String(v),
                },
                title: {
                    display: true,
                    text: 'Time',
                    color: '#000',
                    font: { family: FONT, size: 21 },
                    padding: { top: 0, bottom: 2.4 },
                },
            },
            y: {
                type: 'linear',
                min: 17.879,
                max: 18.529,
                afterBuildTicks: (s) => { s.ticks = yTickLabels.map(v => ({ value: v })); },
                afterFit: (s) => { s.width = 56; },
                grid: { display: false, drawTicks: false },
                border: { display: false },
                ticks: {
                    padding: 6,
                    color: '#000',
                    font: { family: FONT, size: 21 },
                    callback: (v) => Number(v).toFixed(1),
                },
            },
        },
    },
    plugins: [frameTicks, legendBox],
});
</script>
</body>
</html>
